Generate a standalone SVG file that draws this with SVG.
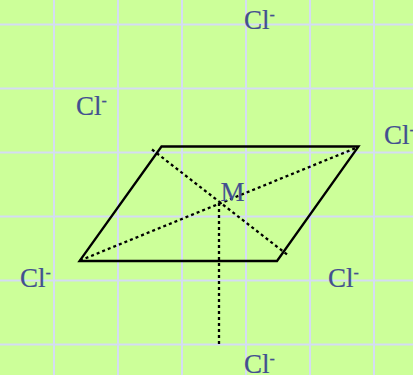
<svg xmlns="http://www.w3.org/2000/svg" width="413" height="375" viewBox="0 0 413 375">
<style>
.g{stroke:#d4dcf4;stroke-width:2;fill:none}
.s{stroke:#000;stroke-width:2.300;fill:none;stroke-linejoin:miter}
.d{stroke:#000;stroke-width:2.300;fill:none;stroke-dasharray:3 3}
text{font-family:"Liberation Serif","Times New Roman",serif;font-size:27px;fill:#434f90;stroke:#434f90;stroke-width:0.200}
.u{font-size:16px}
</style>
<rect width="413" height="375" fill="#ccff99"/>
<g id="grid">
<path class="g" d="M54 0V375M118 0V375M182 0V375M246 0V375M310 0V375M374 0V375M0 24.500H413M0 88.500H413M0 152.500H413M0 216.500H413M0 280.500H413M0 344.500H413"/>
</g>
<g id="connectors">
<path class="s" d="M161.500 146.500H358.500L277 261H79.500Z"/>
<path class="d" d="M152 149.500L289 256"/>
<path class="d" d="M80 260.500L357 147.500"/>
<path class="d" d="M219 203V345"/>
</g>
<g id="node-m"><text x="220.500" y="201">M</text></g>
<g id="node-cl1"><text x="244" y="29">Cl<tspan class="u" dy="-9">-</tspan></text></g>
<g id="node-cl2"><text x="76" y="115">Cl<tspan class="u" dy="-9">-</tspan></text></g>
<g id="node-cl3"><text x="384" y="144">Cl<tspan class="u" dy="-9">-</tspan></text></g>
<g id="node-cl4"><text x="20" y="287">Cl<tspan class="u" dy="-9">-</tspan></text></g>
<g id="node-cl5"><text x="328" y="287">Cl<tspan class="u" dy="-9">-</tspan></text></g>
<g id="node-cl6"><text x="244" y="373">Cl<tspan class="u" dy="-9">-</tspan></text></g>
</svg>
